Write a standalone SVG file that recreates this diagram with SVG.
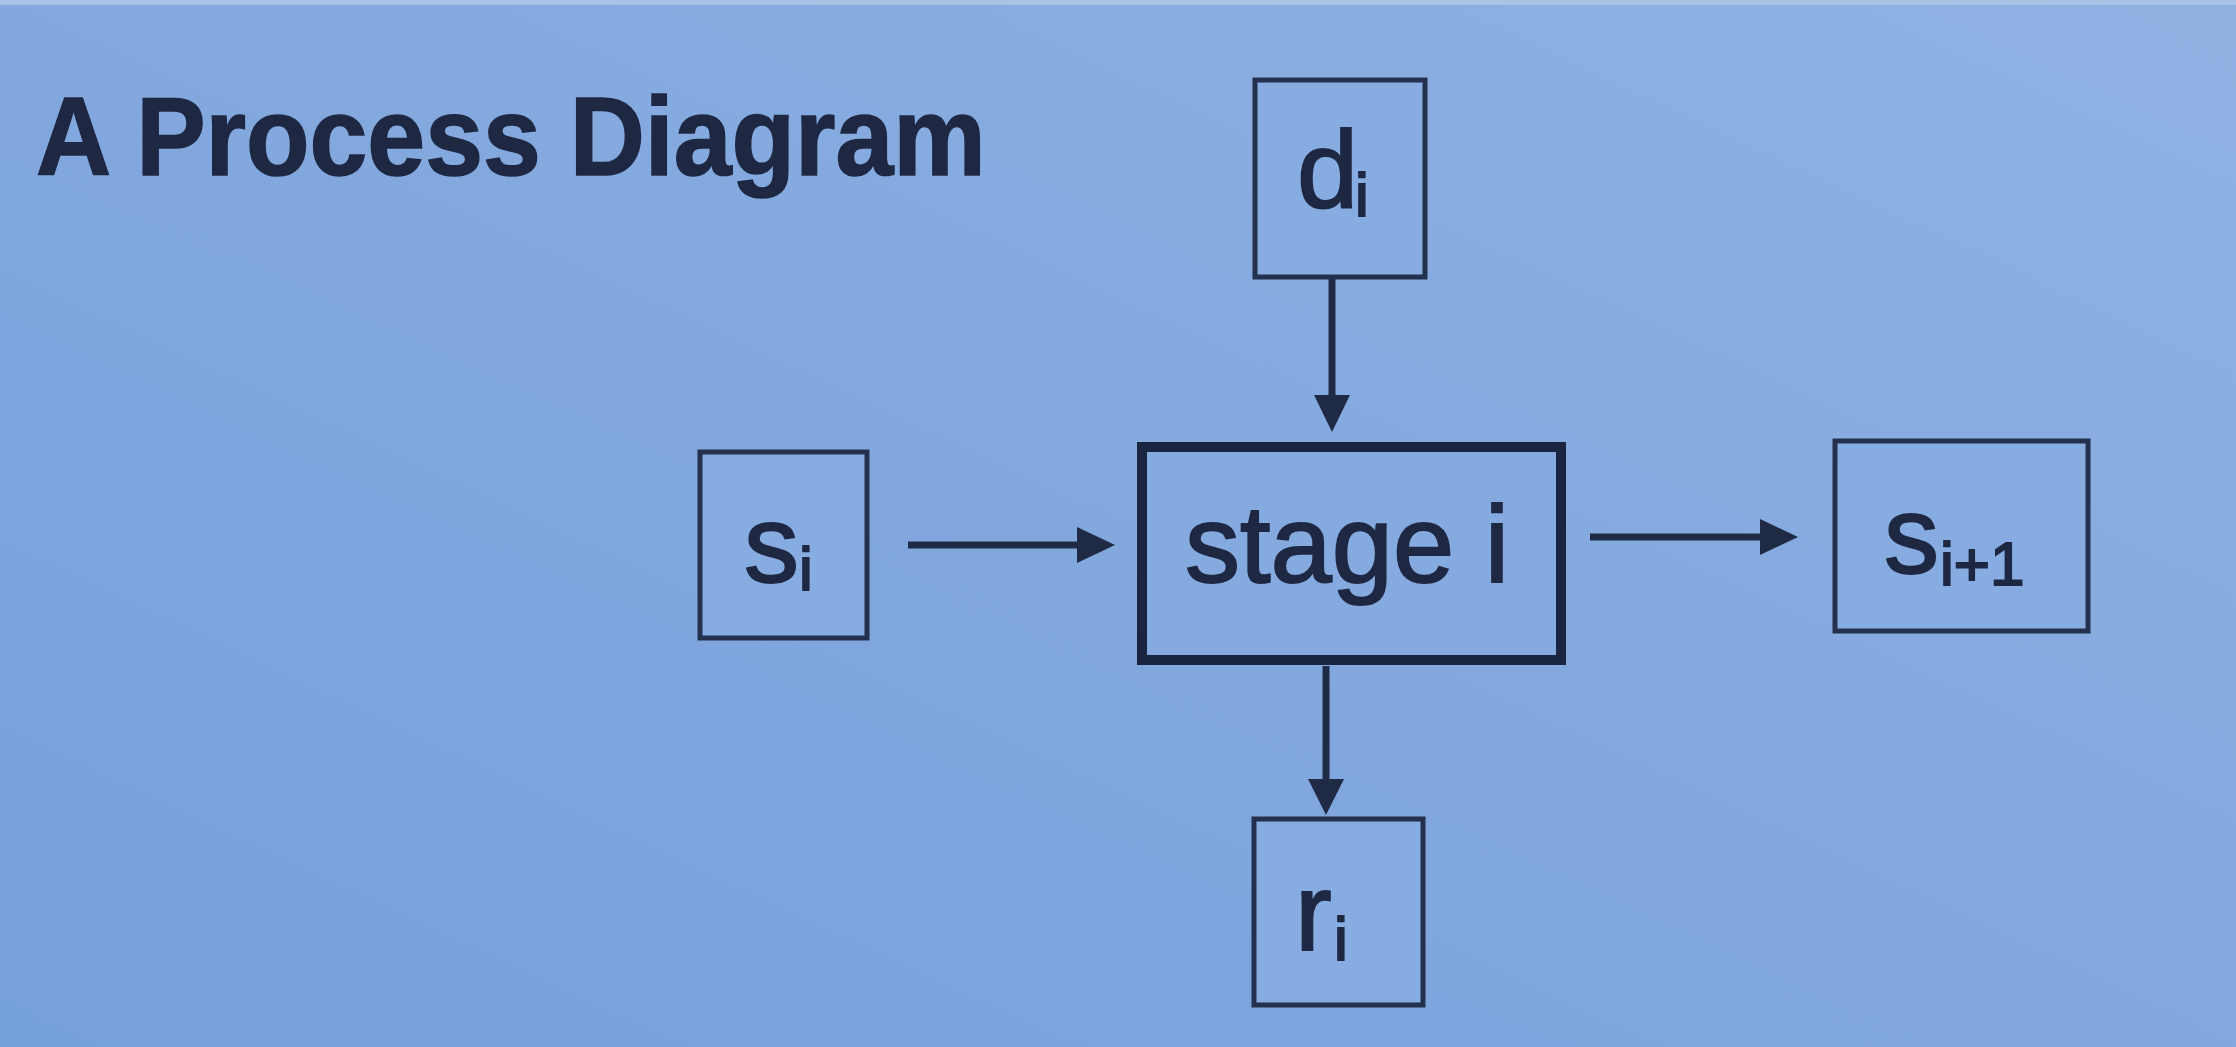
<svg xmlns="http://www.w3.org/2000/svg" width="2236" height="1047" viewBox="0 0 2236 1047">
  <defs>
    <linearGradient id="bg" x1="1" y1="0" x2="0" y2="1">
      <stop offset="0" stop-color="#90b2e3"/>
      <stop offset="0.5" stop-color="#82a8de"/>
      <stop offset="1" stop-color="#76a0dc"/>
    </linearGradient>
    <style>
      .box { fill: #86ace1; stroke: #23304e; stroke-width: 5; }
      .main { fill: #84aadf; stroke: #1a2540; stroke-width: 10; }
      .lbl { font-family: "Liberation Sans", Arial, sans-serif; font-size: 110px; fill: #1e2843; stroke: #1e2843; stroke-width: 2; }
      .sub { font-size: 62px; }
      .title { font-family: "Liberation Sans", Arial, sans-serif; font-weight: bold; font-size: 104px; fill: #1e2843; stroke: #1e2843; stroke-width: 1.5; }
      .conn line { stroke: #1f2b45; stroke-width: 7; fill: none; }
      .conn polygon { fill: #1f2b45; }
    </style>
  </defs>
  <rect x="0" y="0" width="2236" height="1047" fill="url(#bg)"/>
  <rect x="0" y="0" width="2236" height="5" fill="#a9c2e6"/>

  <text class="title" transform="translate(36,175) scale(1,1.07)" x="0" y="0">A Process Diagram</text>

  <g id="connectors" class="conn">
    <line x1="1332" y1="279" x2="1332" y2="400"/>
    <polygon points="1314,395 1350,395 1332,432"/>
    <line x1="908" y1="545" x2="1082" y2="545"/>
    <polygon points="1077,527 1077,563 1115,545"/>
    <line x1="1590" y1="537" x2="1765" y2="537"/>
    <polygon points="1760,519 1760,555 1798,537"/>
    <line x1="1326" y1="666" x2="1326" y2="784"/>
    <polygon points="1308,779 1344,779 1326,815"/>
  </g>

  <g id="node-d">
    <rect class="box" x="1255" y="80" width="170" height="197"/>
    <text class="lbl" x="1297" y="207">d<tspan class="sub" x="1355" y="216">i</tspan></text>
  </g>

  <g id="node-s">
    <rect class="box" x="700" y="452" width="167" height="186"/>
    <text class="lbl" x="744" y="582">s<tspan class="sub" x="799" y="590">i</tspan></text>
  </g>

  <g id="node-stage">
    <rect class="main" x="1142" y="447" width="419" height="213"/>
    <text class="lbl" x="1185" y="582">stage i</text>
  </g>

  <g id="node-snext">
    <rect class="box" x="1835" y="441" width="253" height="190"/>
    <text class="lbl" x="1884" y="573">s<tspan class="sub" x="1940" y="585">i+1</tspan></text>
  </g>

  <g id="node-r">
    <rect class="box" x="1254" y="819" width="169" height="186"/>
    <text class="lbl" x="1295" y="950">r<tspan class="sub" x="1334" y="960">i</tspan></text>
  </g>
</svg>
